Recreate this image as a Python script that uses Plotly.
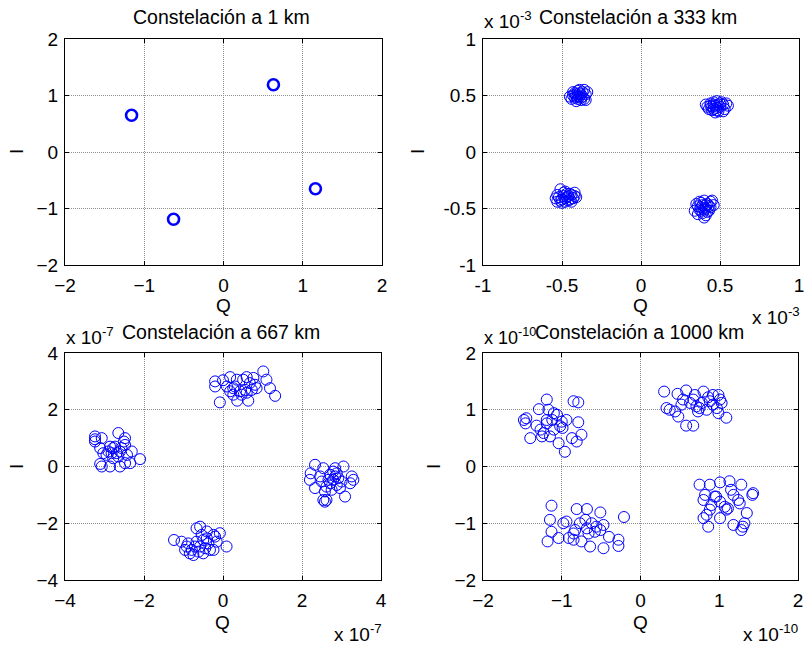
import plotly.graph_objects as go

W, H = 807, 647

# ---------------- data ----------------
# 1 km (units: 1)
q_1km = [0.63, -1.16, -0.63, 1.16]
i_1km = [1.19, 0.65, -1.19, -0.65]

# 333 km (units: x 10^-3)
q_333 = [-0.44, -0.42, -0.39, -0.37, -0.35, -0.41, -0.38, -0.36, -0.43, -0.40, -0.38, -0.41, -0.39,
         -0.42, -0.37, -0.34, -0.40, -0.45, -0.36, -0.39, -0.43, -0.38, -0.41, -0.35, -0.40,
         0.42, 0.44, 0.46, 0.48, 0.50, 0.52, 0.45, 0.47, 0.49, 0.43, 0.51, 0.55, 0.53, 0.46, 0.48,
         0.44, 0.50, 0.41, 0.47, 0.52, 0.45, 0.49, 0.54, 0.46, 0.48,
         -0.53, -0.51, -0.49, -0.47, -0.45, -0.43, -0.50, -0.48, -0.46, -0.52, -0.44, -0.42, -0.41,
         -0.49, -0.47, -0.54, -0.50, -0.45, -0.48, -0.51, -0.46, -0.44, -0.53, -0.48, -0.42,
         0.34, 0.36, 0.38, 0.40, 0.42, 0.44, 0.46, 0.45, 0.37, 0.39, 0.41, 0.43, 0.38, 0.41, 0.36,
         0.44, 0.40, 0.42, 0.35, 0.39, 0.43, 0.37, 0.41, 0.40, 0.38]
i_333 = [0.47, 0.52, 0.49, 0.53, 0.51, 0.45, 0.46, 0.47, 0.50, 0.54, 0.51, 0.49, 0.52,
         0.48, 0.49, 0.53, 0.47, 0.49, 0.55, 0.55, 0.53, 0.48, 0.51, 0.46, 0.50,
         0.40, 0.43, 0.38, 0.45, 0.40, 0.42, 0.37, 0.41, 0.36, 0.38, 0.44, 0.41, 0.38, 0.44, 0.39,
         0.41, 0.43, 0.42, 0.35, 0.36, 0.40, 0.42, 0.43, 0.42, 0.37,
         -0.38, -0.33, -0.36, -0.40, -0.37, -0.41, -0.42, -0.44, -0.43, -0.40, -0.38, -0.36, -0.40,
         -0.39, -0.37, -0.41, -0.45, -0.42, -0.35, -0.43, -0.39, -0.44, -0.44, -0.41, -0.39,
         -0.52, -0.48, -0.45, -0.43, -0.46, -0.44, -0.47, -0.43, -0.51, -0.54, -0.56, -0.52, -0.49,
         -0.50, -0.55, -0.49, -0.58, -0.53, -0.46, -0.47, -0.48, -0.44, -0.47, -0.51, -0.52]

# 667 km (units: x 10^-7)
q_667 = [-0.08, -0.20, -0.20, 0.00, 0.18, 0.26, 0.36, 0.51, 0.60, 0.64, 0.77, 0.85, 1.02, 1.10,
         1.19, 1.32, 0.56, 0.43, 0.18, 0.30, 0.73, 0.60, 0.10, 0.35, 0.81, 0.47, 0.68, 0.26,
         -3.24, -3.24, -3.24, -3.07, -3.11, -3.07, -2.86, -2.65, -2.61, -2.48, -2.51, -2.48, -2.86,
         -2.78, -2.73, -3.03, -2.95, -2.31, -2.10, -2.35, -2.48, -2.65, -2.78, -3.11, -2.90, -2.61,
         -2.43, -2.69, -2.57, -2.82,
         2.33, 2.22, 2.20, 2.33, 2.54, 2.54, 2.58, 2.62, 3.05, 3.09, 3.26, 3.30, 3.22, 2.79, 2.88,
         2.84, 2.79, 2.92, 2.71, 2.62, 2.88, 2.96, 2.75, 2.50, 2.46, 3.00, 2.71, 2.67, 2.84, 2.58,
         -1.24, -1.05, -0.92, -0.84, -0.75, -0.67, -0.58, -0.41, -0.24, -0.08, 0.09, -0.16, -0.24,
         -0.50, -0.62, -0.79, -0.67, -0.50, -0.37, -0.58, -0.88, -0.41, -0.33, -0.96, -0.54, -0.20,
         -0.71, -0.45]
i_667 = [2.26, 3.00, 2.82, 3.04, 3.15, 2.76, 2.32, 3.06, 3.15, 2.32, 3.12, 2.76, 3.35, 3.06,
         2.76, 2.49, 2.70, 2.65, 2.65, 2.82, 2.70, 2.60, 2.82, 3.06, 2.88, 2.53, 2.94, 2.53,
         1.06, 0.88, 0.96, 1.00, 0.09, 0.00, 0.00, 1.18, 0.00, 1.00, 0.88, 0.76, 0.70,
         0.65, 0.70, 0.47, 0.41, 0.53, 0.26, 0.12, 0.12, 0.35, 0.29, 0.65, 0.53, 0.53,
         0.41, 0.47, 0.65, 0.47,
         0.06, -0.24, -0.47, -0.76, -0.06, -1.18, -1.24, -1.18, 0.00, -1.06, -0.35, -0.47, -0.59,
         -0.18, -0.24, -0.35, -0.47, -0.41, -0.59, -0.71, -0.65, -0.76, -0.82, -0.53, -0.35, -0.53,
         -0.29, -0.47, -0.06, -0.88,
         -2.59, -2.65, -2.82, -3.06, -3.12, -2.18, -2.12, -2.29, -2.41, -2.35, -2.82, -2.65, -2.94,
         -3.06, -3.00, -2.94, -2.65, -2.59, -2.71, -2.82, -2.71, -2.53, -2.94, -2.94, -2.41, -2.47,
         -2.82, -2.88]

# 1000 km (units: x 10^-10)
q_1000 = [-1.48, -1.46, -1.45, -1.40, -1.32, -1.29, -1.19, -1.17, -1.23, -1.25, -1.19, -1.19,
          -1.12, -1.10, -1.06, -1.04, -1.00, -0.99, -0.96, -0.94, -0.87, -0.85, -0.79, -0.79,
          -0.81, -0.75, -1.10, -1.15, -1.02, -1.27,
          0.30, 0.33, 0.37, 0.47, 0.48, 0.52, 0.58, 0.58, 0.67, 0.63, 0.69, 0.71, 0.75, 0.80,
          0.84, 0.86, 0.92, 0.97, 0.99, 1.01, 0.99, 1.03, 1.09, 0.78, 0.67, 0.54, 0.44, 0.92,
          0.73, 0.88,
          -1.18, -1.15, -1.13, -1.13, -1.04, -0.98, -0.94, -0.91, -0.85, -0.81, -0.83, -0.75,
          -0.70, -0.68, -0.68, -0.64, -0.62, -0.56, -0.51, -0.51, -0.47, -0.47, -0.40, -0.28,
          -0.28, -0.21, -0.77, -0.85, -0.66, -0.58,
          0.75, 0.82, 0.80, 0.88, 0.94, 1.01, 1.13, 1.28, 1.43, 1.42, 1.35, 1.32, 1.30, 1.28,
          1.18, 1.01, 0.86, 0.80, 0.84, 0.88, 0.96, 1.07, 1.11, 1.09, 1.18, 1.24, 1.26, 1.01,
          1.15, 0.90]
i_1000 = [0.82, 0.76, 0.85, 0.50, 0.72, 1.01, 1.18, 1.00, 0.59, 0.53, 0.82, 0.76,
          0.82, 0.94, 0.91, 0.41, 0.79, 0.68, 0.26, 0.82, 0.50, 1.15, 1.13, 0.78,
          0.44, 0.56, 0.65, 0.53, 0.71, 0.65,
          1.32, 1.03, 1.00, 1.28, 0.88, 1.09, 1.34, 0.72, 0.72, 1.12, 1.26, 1.06, 1.03, 1.32,
          1.00, 1.22, 1.26, 1.03, 1.26, 1.18, 0.94, 1.12, 0.86, 1.12, 1.18, 1.18, 0.97, 1.09,
          0.97, 1.15,
          -1.32, -0.94, -0.69, -1.15, -1.26, -1.00, -0.97, -1.26, -1.29, -0.75, -1.12, -1.32,
          -0.94, -0.75, -1.09, -1.41, -1.00, -1.06, -0.81, -1.12, -1.44, -1.03, -1.24, -1.29,
          -1.40, -0.89, -1.00, -1.18, -1.18, -1.15,
          -0.32, -0.50, -0.59, -0.32, -0.53, -0.28, -0.26, -0.32, -0.47, -0.50, -0.82, -1.00,
          -1.06, -1.12, -1.03, -0.91, -1.06, -0.91, -0.85, -0.76, -0.53, -0.71, -0.74, -0.76,
          -0.50, -0.59, -0.65, -0.62, -0.41, -0.68]

titles = ["Constelación a 1 km", "Constelación a 333 km",
          "Constelación a 667 km", "Constelación a 1000 km"]
ticks_1 = [-2, -1, 0, 1, 2]
ticks_333 = [-1, -0.5, 0, 0.5, 1]
ticks_333_text = ["-1", "-0.5", "0", "0.5", "1"]
ticks_667 = [-4, -2, 0, 2, 4]
ticks_1000 = [-2, -1, 0, 1, 2]

# ---------------- layout ----------------
FONT = "Arial, Liberation Sans, sans-serif"
FS = 19
FT = 19.5
BLUE = "#0000ff"

def px(x):
    return x / W

def py(y):
    return 1 - y / H

# plot areas in pixels (left, right, top, bottom)
areas = [(65, 382, 39, 265), (483, 799, 39, 265), (65, 381, 353, 580), (483, 798, 353, 580)]

fig = go.Figure()

data = [(q_1km, i_1km, 2.6, 11), (q_333, i_333, 1, 11), (q_667, i_667, 1, 11), (q_1000, i_1000, 1, 11)]
for k, (qq, ii, lw, ms) in enumerate(data):
    suf = "" if k == 0 else str(k + 1)
    fig.add_trace(go.Scatter(
        x=qq, y=ii, mode="markers", xaxis="x" + suf, yaxis="y" + suf,
        marker=dict(symbol="circle-open", size=ms, color=BLUE,
                    line=dict(width=lw, color=BLUE)),
        showlegend=False, hoverinfo="skip"))

ranges = [(-2, 2, ticks_1, None), (-1, 1, ticks_333, ticks_333_text),
          (-4, 4, ticks_667, None), (-2, 2, ticks_1000, None)]

axis_common = dict(showline=True, linecolor="black", linewidth=1, mirror="ticks",
                   ticks="inside", ticklen=4, tickcolor="black", tickwidth=1,
                   showgrid=True, gridcolor="#8f8f8f", griddash="1px,1px", gridwidth=1,
                   zeroline=False, automargin=False,
                   tickfont=dict(family=FONT, size=FS, color="black"))

layout = dict(width=W, height=H, margin=dict(l=0, r=0, t=0, b=0, autoexpand=False),
              paper_bgcolor="white", plot_bgcolor="white",
              font=dict(family=FONT, size=FS, color="black"))

for k, (l, r, t, b) in enumerate(areas):
    suf = "" if k == 0 else str(k + 1)
    lo, hi, tv, tt = ranges[k]
    xa = dict(axis_common, domain=[px(l), px(r)], range=[lo, hi], tickvals=tv,
              anchor="y" + suf, ticklabelstandoff=3)
    ya = dict(axis_common, domain=[py(b), py(t)], range=[lo, hi], tickvals=tv,
              anchor="x" + suf, ticklabelstandoff=2)
    if tt:
        xa["ticktext"] = tt
        ya["ticktext"] = tt
    layout["xaxis" + suf] = xa
    layout["yaxis" + suf] = ya

fig.update_layout(**layout)

def ann(text, x, y, xanchor="center", size=FS, angle=0):
    fig.add_annotation(text=text, x=px(x), y=py(y), xref="paper", yref="paper",
                       xanchor=xanchor, yanchor="middle", showarrow=False,
                       textangle=angle, font=dict(family=FONT, size=size, color="black"))

# titles
ann(titles[0], 221, 17, size=FT)
ann(titles[1], 638, 17, size=FT)
ann(titles[2], 221, 332, size=FT)
ann(titles[3], 639, 332, size=FT)

# axis labels
for xc, yc in [(223, 305), (640, 305), (222, 622), (640, 622)]:
    ann("Q", xc, yc)
for xc, yc in [(16, 152), (417, 152), (16, 467), (433, 467)]:
    ann("I", xc, yc, angle=-90)

# exponent labels
ann("x 10<sup>-3</sup>", 482, 20, xanchor="left")
ann("x 10<sup>-3</sup>", 750, 316, xanchor="left")
ann("x 10<sup>-7</sup>", 64, 336, xanchor="left")
ann("x 10<sup>-7</sup>", 332, 633, xanchor="left")
ann("x 10<sup>-10</sup>", 482, 336, xanchor="left", size=18)
ann("x 10<sup>-10</sup>", 741, 633, xanchor="left")

fig.write_html("out.html")
